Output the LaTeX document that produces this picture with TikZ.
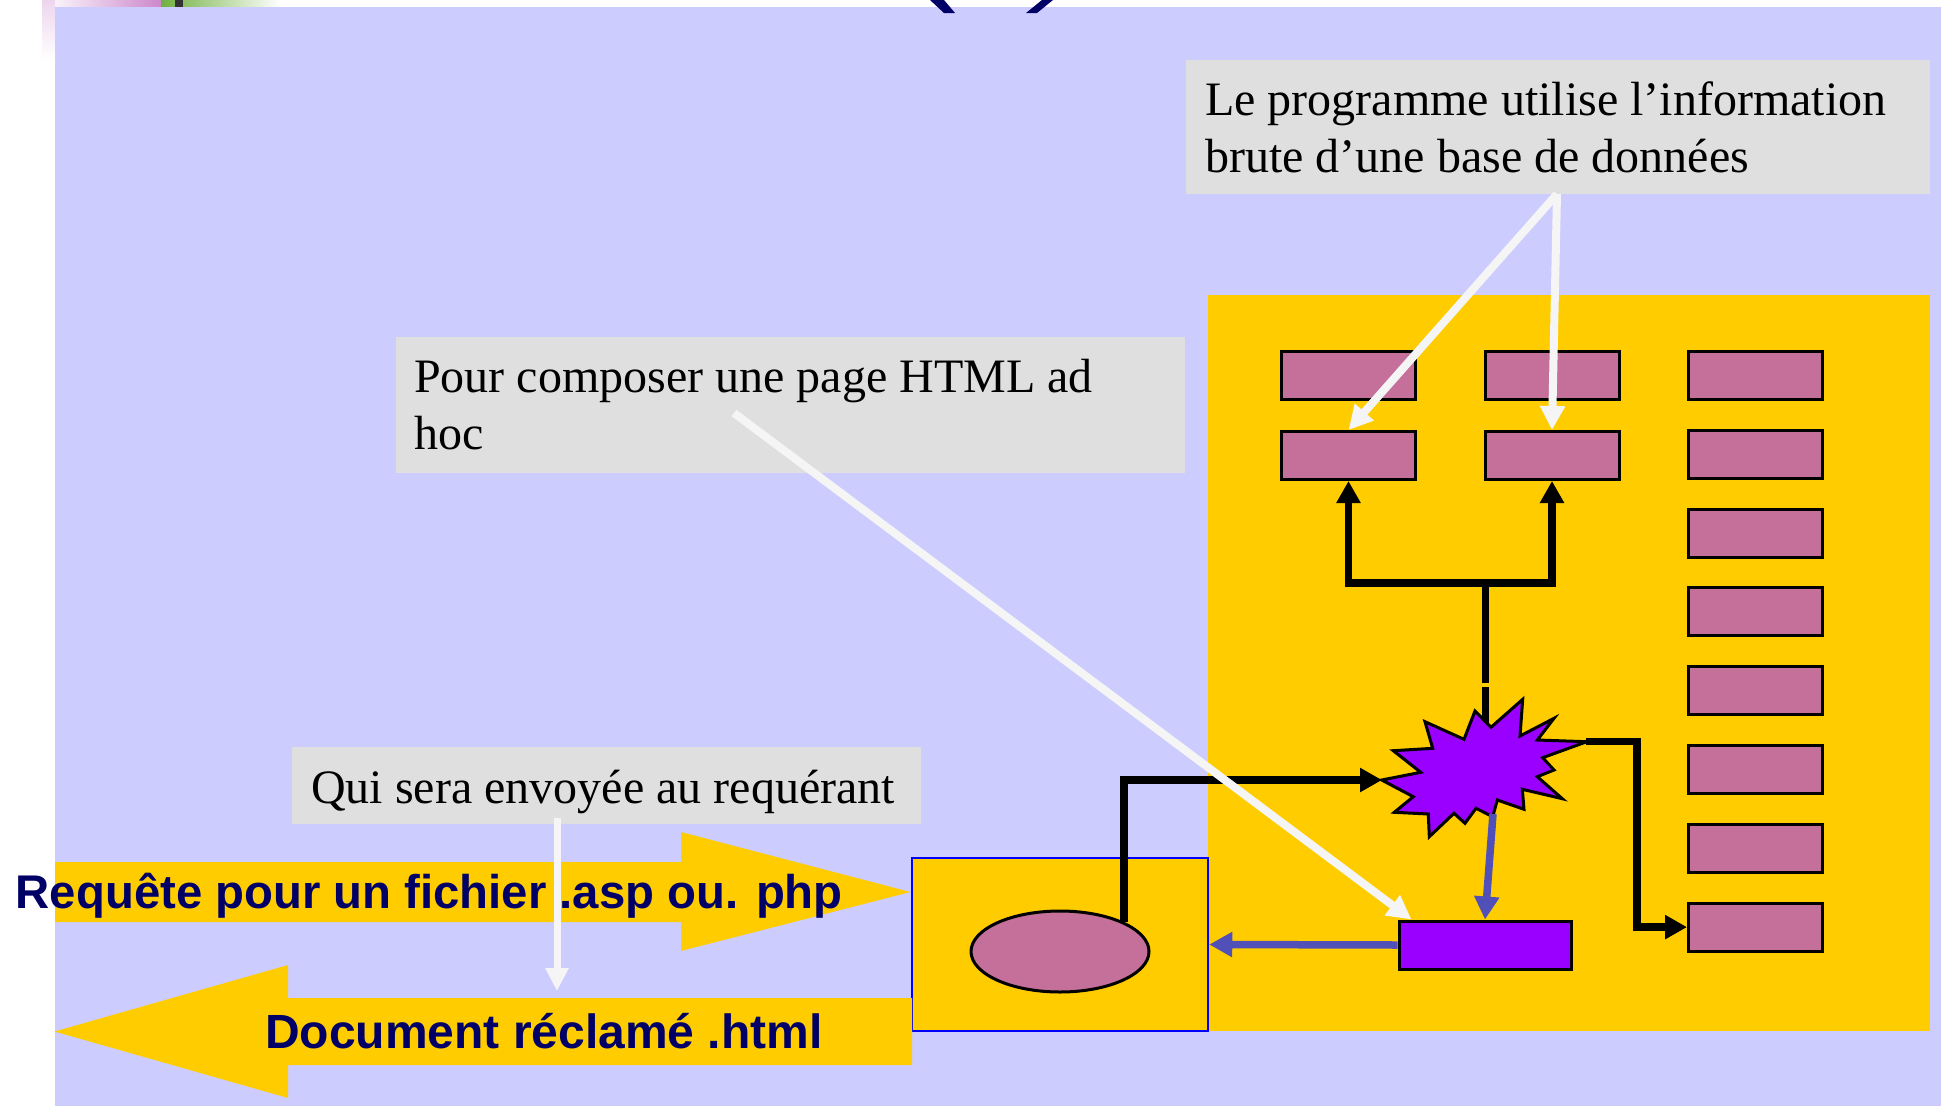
\documentclass[tikz,border=0pt]{standalone}
\usepackage{fontspec}
\setmainfont{Liberation Serif}
\setsansfont{Liberation Sans}
\usetikzlibrary{arrows.meta,shapes.geometric}
\definecolor{lav}{HTML}{CCCCFF}
\definecolor{grayc}{HTML}{DFDFDF}
\definecolor{yel}{HTML}{FFCC00}
\definecolor{pinkc}{HTML}{C4709A}
\definecolor{purp}{HTML}{9900FF}
\definecolor{bluc}{HTML}{5050B8}
\definecolor{navyc}{HTML}{000066}
\definecolor{whitec}{HTML}{F5F5F5}
\definecolor{pinkdec}{HTML}{CC88CC}
\definecolor{greendec}{HTML}{70B040}
\tikzset{
  pinkbox/.style={draw=black, line width=3pt, fill=pinkc, minimum width=134pt, minimum height=48pt, inner sep=0pt},
  graybox/.style={fill=grayc, inner sep=0pt, anchor=north west},
  serifline/.style={anchor=base west, inner sep=0pt, font=\fontsize{48}{57}\selectfont},
  boldlbl/.style={anchor=base west, inner sep=0pt, text=navyc, font=\sffamily\bfseries\fontsize{48}{57}\selectfont},
  blk/.style={draw=black, line width=7.5pt, line join=miter},
  blktip/.tip={Triangle[length=22pt,width=23pt]},
  blutip/.tip={Triangle[length=23pt,width=24pt]},
  whtip/.tip={Triangle[length=24pt,width=24pt]},
  blu/.style={draw=bluc, line width=7.5pt},
  wht/.style={draw=whitec, line width=8pt, -whtip},
  bigarrow/.style={fill=yel},
}
\begin{document}
\begin{tikzpicture}[x=1pt,y=-1pt]
\useasboundingbox (0,0) rectangle (1941,1106);
\fill[white] (0,0) rectangle (1941,1106);
% top-left decoration
\shade[left color=white, right color=pinkdec] (42,0) rectangle (161,7);
\shade[left color=greendec, right color=white] (161,0) rectangle (280,7);
\fill[black!80] (175,0) rectangle (183,7);
\shade[top color=pinkdec!35, bottom color=white] (42,0) rectangle (55,60);
% background
\fill[lav] (55,7) rectangle (1941,1106);
% cut title parentheses
\fill[navyc] (930,0) -- (944,0) -- (955,13) -- (944,13) -- cycle;
\fill[navyc] (1042,0) -- (1053,0) -- (1037,13) -- (1026,13) -- cycle;
% callout boxes
\node[graybox, minimum width=744pt, minimum height=134pt] (c1) at (1186,60) {};
\node[graybox, minimum width=789pt, minimum height=136pt] (c2) at (396,337) {};
\node[graybox, minimum width=629pt, minimum height=77pt] (c3) at (292,747) {};
\node[serifline] (c1a) at (1205,115) {Le programme utilise l’information};
\node[serifline] (c1b) at (1205,172) {brute d’une base de données};
\node[serifline] (c2a) at (414,392) {Pour composer une page HTML ad};
\node[serifline] (c2b) at (414,449) {hoc};
\node[serifline] (c3a) at (311,803) {Qui sera envoyée au requérant};
% server
\node[fill=yel, inner sep=0pt, anchor=north west, minimum width=722pt, minimum height=736pt] (server) at (1208,295) {};
\node[pinkbox] (r11) at (1348.5,375.5) {};
\node[pinkbox] (r21) at (1348.5,455.5) {};
\node[pinkbox] (r12) at (1552,375.5) {};
\node[pinkbox] (r22) at (1552,455.5) {};
\foreach \k in {1,...,8}{
  \node[pinkbox] (r3\k) at (1755.5,{375.5+78.8*(\k-1)}) {};
}
% client
\node[draw=blue, line width=2.5pt, fill=yel, inner sep=0pt, minimum width=296pt, minimum height=173pt] (client) at (1060,944.5) {};
\node[ellipse, draw=black, line width=3pt, fill=pinkc, inner sep=0pt, minimum width=178pt, minimum height=81pt] (ell) at (1060,951.5) {};
% big arrows
\fill[bigarrow] (55,862) -- (681,862) -- (681,832) -- (910.5,892) -- (681,951) -- (681,922) -- (55,922) -- cycle;
\fill[bigarrow] (912,998) -- (288,998) -- (288,965) -- (54.5,1031.5) -- (288,1098) -- (288,1065) -- (912,1065) -- cycle;
% purple result box
\node[draw=black, line width=3pt, fill=purp, inner sep=0pt, minimum width=172pt, minimum height=48pt] (pr) at (1485,945) {};
% starburst
\coordinate (starL) at (1382,780);
\coordinate (starR) at (1586,741.7);
\coordinate (starT) at (1485.5,726);
\coordinate (starB) at (1493,814);
\coordinate (junc) at (1485.5,583);
\coordinate (gapt) at (1485.5,683);
\coordinate (gapb) at (1485.5,687);
% connectors
\draw[blk] (junc) -- (gapt);
\draw[blk] (gapb) -- (starT);
\draw[blk, blktip-blktip] (r21.south) -- (r21.south |- junc) -- (r22.south |- junc) -- (r22.south);
\draw[blk, -blktip] (ell.25) |- (starL);
\draw[blk, -blktip] (starR) -- ++(51,0) |- (r38.west);
\fill[purp, draw=black, line width=3pt, line join=miter]
  (1381.7,780) -- (1420.7,772.3) -- (1393.3,750.7) -- (1432.7,748.3) -- (1425,721.7)
  -- (1464,739.3) -- (1475,711) -- (1491,727.3) -- (1522.7,699.3) -- (1520,736)
  -- (1554,718.3) -- (1537.3,740) -- (1586.7,741.7) -- (1542.7,757.7) -- (1554,770)
  -- (1537.3,776.7) -- (1562.3,798.7) -- (1522.3,789.3) -- (1524,809.3) -- (1497.3,800)
  -- (1492.7,816.7) -- (1476,808.3) -- (1465,823.3) -- (1454,813.3) -- (1429.3,836.7)
  -- (1428.3,814) -- (1394.3,812.3) -- (1413.3,796.7) -- cycle;
\draw[blu, -blutip] (starB) -- (pr.north);
\draw[blu, -blutip] (pr.west) -- (client.east);
% arrow labels
\node[boldlbl, font=\sffamily\bfseries\fontsize{47.3}{57}\selectfont] (req) at (15.6,908) {Requête pour un fichier .asp ou. php};
\node[boldlbl] (doc) at (265,1048) {Document réclamé .html};
% white callout arrows
\coordinate (c1s) at (1557,194);
\coordinate (c2s) at (734,413);
\coordinate (c3s) at (557,818);
\draw[wht] (c1s) -- (r21.north);
\draw[wht] (c1s) -- (r22.north);
\draw[wht] (c2s) -- ([xshift=14pt]pr.north west);
\draw[draw=whitec, line width=7pt, -{Triangle[length=23pt,width=22pt]}] (c3s) -- (557,991);
\end{tikzpicture}
\end{document}
